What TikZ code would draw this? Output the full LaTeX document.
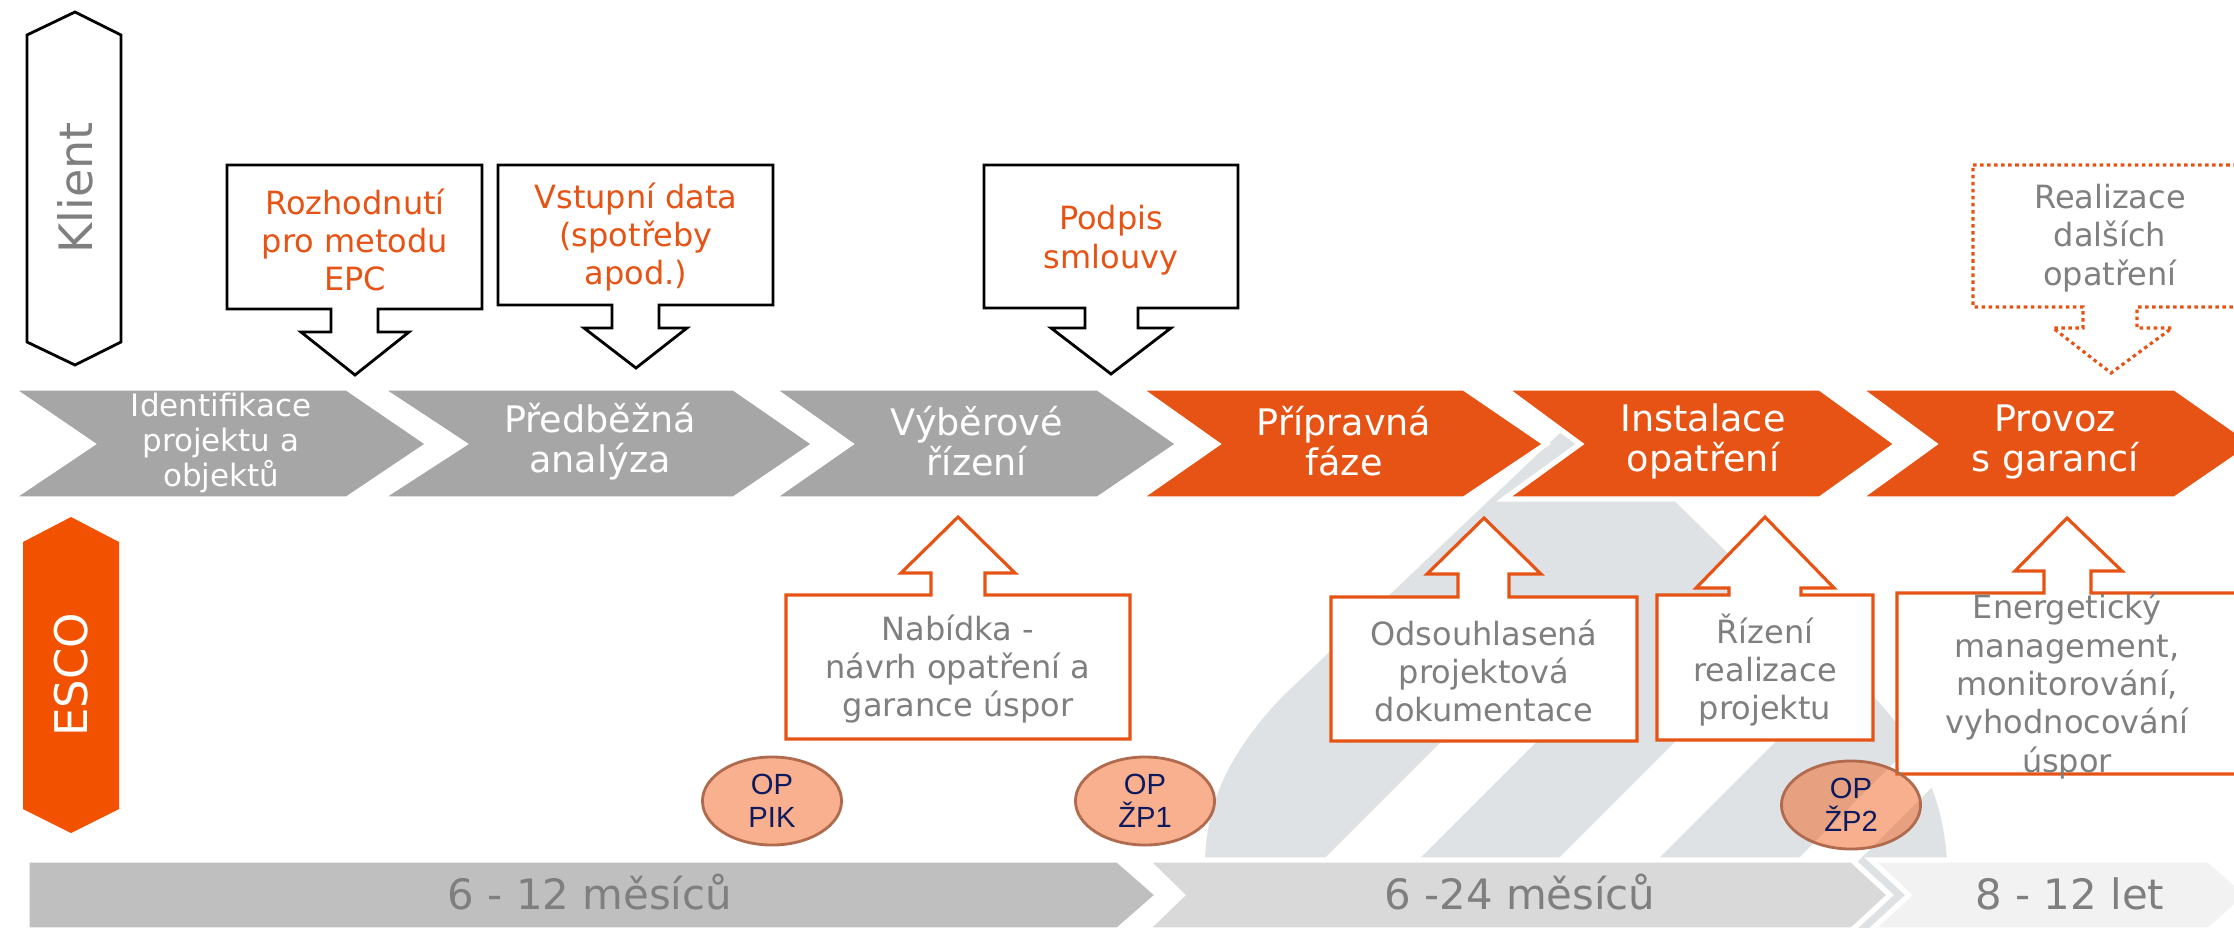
\documentclass[tikz,border=0pt]{standalone}
\usepackage{fontspec}
\setmainfont{DejaVu Sans}
\newfontfamily\opfont{Liberation Sans}
\usepackage{xcolor}
\usetikzlibrary{shapes.geometric}
\definecolor{custom-orange}{RGB}{230, 83, 20}
\definecolor{esco-orange}{RGB}{242, 81, 0}
\definecolor{chev-gray}{RGB}{166, 166, 166}
\definecolor{text-gray}{RGB}{127, 127, 127}
\definecolor{bar-one}{RGB}{191, 191, 191}
\definecolor{bar-two}{RGB}{217, 217, 217}
\definecolor{bar-three}{RGB}{242, 242, 242}
\definecolor{logo-gray}{RGB}{223, 226, 229}
\definecolor{op-fill}{RGB}{241, 97, 29}
\definecolor{op-line}{RGB}{176, 106, 78}
\definecolor{op-text}{RGB}{13, 27, 94}

\begin{document}
\begin{tikzpicture}[x=0.01cm, y=-0.01cm,
    boxtext/.style={align=center, inner sep=0pt, font=\fontsize{9.1pt}{10.9pt}\selectfont},
    chevtext/.style={align=center, inner sep=0pt, text=white, font=\fontsize{10.4pt}{11.4pt}\selectfont},
    bartext/.style={anchor=base, inner sep=0pt, text=text-gray, font=\fontsize{11.9pt}{13pt}\selectfont},
    opnode/.style={ellipse, draw=op-line, line width=0.8pt, fill=op-fill, fill opacity=0.5, text opacity=1,
        text=op-text, minimum width=1.39cm, minimum height=0.88cm, inner sep=0pt, align=center,
        font=\opfont\fontsize{8.3pt}{9.4pt}\selectfont}]
                \useasboundingbox (0, 0) rectangle (2234, 927);
                % background logo
                \fill[logo-gray] (1205, 935) -- (1205, 860) .. controls (1207, 800) and (1230, 752) .. (1282, 697) -- (1583, 411) -- (1874, 697) .. controls (1920, 745) and (1943, 800) .. (1947, 860) -- (1947, 935) -- cycle;
                \begin{scope}
                \clip (1205, 935) -- (1205, 860) .. controls (1207, 800) and (1230, 752) .. (1282, 697) -- (1583, 411) -- (1874, 697) .. controls (1920, 745) and (1943, 800) .. (1947, 860) -- (1947, 935) -- cycle;
                \fill[white] (1248, 935) -- (1343, 935) -- (1540, 738) -- (1445, 738) -- cycle;
                \fill[white] (1482, 935) -- (1582, 935) -- (1779, 738) -- (1679, 738) -- cycle;
                \fill[white] (1722, 935) -- (1784, 935) -- (1981, 738) -- (1919, 738) -- cycle;
                \end{scope}
                % phases
                \filldraw[fill=chev-gray, draw=white, line width=1.5pt] (10, 388) -- (347, 388) -- (429, 444) -- (347, 499) -- (10, 499) -- (92, 444) -- cycle;
                \filldraw[fill=chev-gray, draw=white, line width=1.5pt] (379, 388) -- (734, 388) -- (815, 444) -- (734, 499) -- (379, 499) -- (464, 444) -- cycle;
                \filldraw[fill=chev-gray, draw=white, line width=1.5pt] (771, 388) -- (1098, 388) -- (1179, 444) -- (1098, 499) -- (771, 499) -- (850, 444) -- cycle;
                \filldraw[fill=custom-orange, draw=white, line width=1.5pt] (1138, 388) -- (1464, 388) -- (1546, 444) -- (1464, 499) -- (1138, 499) -- (1217, 444) -- cycle;
                \filldraw[fill=custom-orange, draw=white, line width=1.5pt] (1504, 388) -- (1820, 388) -- (1897, 444) -- (1820, 499) -- (1504, 499) -- (1580, 444) -- cycle;
                \filldraw[fill=custom-orange, draw=white, line width=1.5pt] (1858, 388) -- (2175, 388) -- (2255, 444) -- (2175, 499) -- (1858, 499) -- (1934, 444) -- cycle;
                \node[chevtext, font=\fontsize{8.8pt}{10pt}\selectfont] (identifikace) at (221, 443) {Identifikace\\projektu a\\objektů};
                \node[chevtext] (analyza) at (600, 442) {Předběžná\\analýza};
                \node[chevtext] (vyber) at (977, 441) {Výběrové\\řízení};
                \node[chevtext] (priprava) at (1344, 441) {Přípravná\\fáze};
                \node[chevtext] (instalace) at (1703, 441) {Instalace\\opatření};
                \node[chevtext] (provoz) at (2055, 442) {Provoz\\s garancí};
                % duration bars
                \filldraw[fill=bar-one, draw=white, line width=1.5pt] (27, 860) -- (1118, 860) -- (1158, 895) -- (1118, 930) -- (27, 930) -- cycle;
                \filldraw[fill=bar-two, draw=white, line width=1.5pt] (1146, 860) -- (1852, 860) -- (1890, 895) -- (1852, 930) -- (1146, 930) -- (1182, 895) -- cycle;
                \filldraw[fill=bar-three, draw=white, line width=1.5pt] (1871, 860) -- (2209, 860) -- (2249, 895) -- (2209, 930) -- (1871, 930) -- (1909, 895) -- cycle;
                \node[bartext] (kratke) at (590, 909) {6 - 12 měsíců};
                \node[bartext] (stredni) at (1520, 909) {6 -24 měsíců};
                \node[bartext] (dlouhe) at (2070, 909) {8 - 12 let};
                % client side
                \filldraw[fill=white, draw=black, line width=0.8pt] (27, 35) -- (75, 12) -- (121, 35) -- (121, 342) -- (75, 365) -- (27, 342) -- cycle;
                \node[rotate=90, text=text-gray, inner sep=0pt, font=\fontsize{13.1pt}{15pt}\selectfont] (klient) at (75, 188) {Klient};
                \filldraw[fill=white, draw=black, line width=0.8pt] (227, 165) -- (482, 165) -- (482, 309) -- (378, 309) -- (378, 332) -- (409, 332) -- (355, 375) -- (301, 332) -- (331, 332) -- (331, 309) -- (227, 309) -- cycle;
                \filldraw[fill=white, draw=black, line width=0.8pt] (498, 165) -- (773, 165) -- (773, 305) -- (659, 305) -- (659, 328) -- (687, 328) -- (636, 368) -- (584, 328) -- (612, 328) -- (612, 305) -- (498, 305) -- cycle;
                \filldraw[fill=white, draw=black, line width=0.8pt] (984, 165) -- (1238, 165) -- (1238, 308) -- (1138, 308) -- (1138, 328) -- (1171, 328) -- (1111, 374) -- (1051, 328) -- (1085, 328) -- (1085, 308) -- (984, 308) -- cycle;
                \filldraw[fill=white, draw=custom-orange, line width=0.9pt, dash pattern=on 1pt off 1pt] (1973, 165) -- (2250, 165) -- (2250, 307) -- (2137, 307) -- (2137, 328) -- (2172, 328) -- (2111, 373) -- (2053, 328) -- (2083, 328) -- (2083, 307) -- (1973, 307) -- cycle;
                \node[boxtext, text=custom-orange] (rozhodnuti) at (355, 240) {Rozhodnutí\\pro metodu\\EPC};
                \node[boxtext, text=custom-orange] (vstup) at (636, 237) {Vstupní data\\(spotřeby\\apod.)};
                \node[boxtext, text=custom-orange] (podpis) at (1111, 240) {Podpis\\smlouvy};
                \node[boxtext, text=text-gray] (dalsi) at (2110, 238) {Realizace\\dalších\\opatření};
                % ESCO side
                \fill[esco-orange] (23, 542) -- (71, 517) -- (119, 542) -- (119, 809) -- (71, 833) -- (23, 809) -- cycle;
                \node[rotate=90, text=white, inner sep=0pt, font=\fontsize{12.8pt}{15pt}\selectfont] (esco) at (71, 675) {ESCO};
                \filldraw[fill=white, draw=custom-orange, line width=0.9pt] (786, 595) -- (931, 595) -- (931, 573) -- (901, 573) -- (958, 517) -- (1015, 573) -- (985, 573) -- (985, 595) -- (1130, 595) -- (1130, 739) -- (786, 739) -- cycle;
                \filldraw[fill=white, draw=custom-orange, line width=0.9pt] (1331, 597) -- (1458, 597) -- (1458, 574) -- (1427, 574) -- (1484, 518) -- (1541, 574) -- (1509, 574) -- (1509, 597) -- (1637, 597) -- (1637, 741) -- (1331, 741) -- cycle;
                \filldraw[fill=white, draw=custom-orange, line width=0.9pt] (1657, 595) -- (1729, 595) -- (1729, 588) -- (1696, 588) -- (1765, 517) -- (1834, 588) -- (1801, 588) -- (1801, 595) -- (1873, 595) -- (1873, 740) -- (1657, 740) -- cycle;
                \filldraw[fill=white, draw=custom-orange, line width=0.9pt] (1897, 593) -- (2044, 593) -- (2044, 571) -- (2015, 571) -- (2067, 518) -- (2122, 571) -- (2091, 571) -- (2091, 593) -- (2250, 593) -- (2250, 774) -- (1897, 774) -- cycle;
                \node[boxtext, text=text-gray] (nabidka) at (958, 669) {Nabídka -\\návrh opatření a\\garance úspor};
                \node[boxtext, text=text-gray] (dokumentace) at (1484, 671) {Odsouhlasená\\projektová\\dokumentace};
                \node[boxtext, text=text-gray] (rizeni) at (1765, 670) {Řízení\\realizace\\projektu};
                \node[boxtext, text=text-gray] (energ) at (2067, 686) {Energetický\\management,\\monitorování,\\vyhodnocování\\úspor};
                % funding programmes
                \node[opnode] (pik) at (772, 801) {OP\\PIK};
                \node[opnode] (zp1) at (1145, 801) {OP\\ŽP1};
                \node[opnode] (zp2) at (1851, 805) {OP\\ŽP2};
            \end{tikzpicture}
\end{document}
